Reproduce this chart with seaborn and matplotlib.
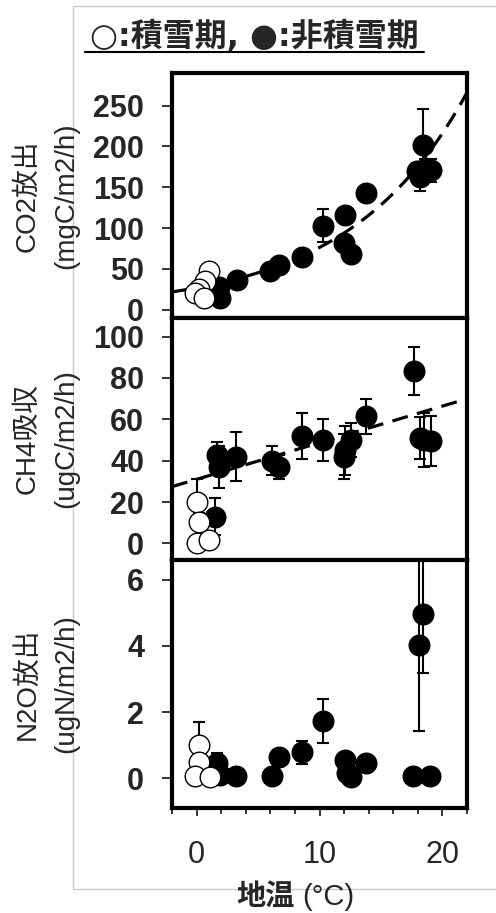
import numpy as np
import matplotlib
matplotlib.use("Agg")
import matplotlib.pyplot as plt
import seaborn as sns
from matplotlib.ticker import MultipleLocator
from matplotlib.patches import Rectangle
from matplotlib.lines import Line2D

# データ (地温 °C)
co2_snow_x = [1.0, 0.7, 0.2, -0.1, 0.6]
co2_snow_y = [48, 35, 25, 20, 15]
co2_snow_err = [3, 3, 3, 3, 3]
co2_x = [1.8, 1.9, 3.3, 6.0, 6.7, 8.6, 10.3, 12.1, 12.0, 12.6, 13.8, 18.4, 17.9, 18.6, 19.1, 18.2]
co2_y = [28, 14, 37, 47, 55, 65, 103, 116, 82, 68, 143, 202, 170, 172, 171, 163]
co2_err = [4, 3, 4, 5, 5, 6, 20, 8, 8, 6, 6, 44, 10, 13, 14, 18]
co2_fit = (27.0, 0.104)  # a*exp(b*T)

ch4_snow_x = [0.0, 0.2, 0.05, 1.0]
ch4_snow_y = [20, 10.5, 0.3, 1.6]
ch4_snow_err = [11, 4, 2, 2]
ch4_x = [1.7, 1.8, 3.2, 1.5, 6.1, 6.7, 8.6, 10.3, 12.1, 12.6, 12.0, 13.8, 17.7, 18.2, 18.5, 19.1]
ch4_y = [43, 37, 42, 13, 40, 37, 52, 50, 45, 50, 42, 61.5, 83.4, 51, 50, 49.5]
ch4_err = [6, 10, 12, 9, 7, 6, 11, 10, 12, 8, 11, 8.5, 11.5, 10, 13, 12]
ch4_fit = (31.0, 1.77)  # a + b*T

n2o_snow_x = [0.2, 0.2, -0.1, 1.1]
n2o_snow_y = [1.0, 0.5, 0.07, 0.05]
n2o_snow_err = [0.7, 0.15, 0.1, 0.1]
n2o_x = [1.7, 1.9, 3.2, 6.1, 6.7, 8.6, 10.3, 12.1, 12.2, 12.6, 13.8, 17.6, 19.0, 18.4, 18.1]
n2o_y = [0.45, 0.1, 0.07, 0.07, 0.63, 0.78, 1.73, 0.56, 0.15, 0.05, 0.46, 0.07, 0.07, 4.98, 4.03]
n2o_err = [0.3, 0.1, 0.05, 0.05, 0.1, 0.35, 0.66, 0.1, 0.1, 0.05, 0.1, 0.05, 0.05, 1.8, 2.6]

ylabels = ["CO2放出\n(mgC/m2/h)", "CH4吸収\n(ugC/m2/h)", "N2O放出\n(ugN/m2/h)"]
yticks = [[0, 50, 100, 150, 200, 250], [0, 20, 40, 60, 80, 100], [0, 2, 4, 6]]
ylims = [(-10, 290), (-8, 109), (-0.9, 6.6)]

sns.set_style("white")
plt.rcParams['font.family'] = ['Liberation Sans', 'Noto Sans CJK JP']

fig = plt.figure(figsize=(4.96, 9.13), dpi=100)

# 外枠
fig.patches.append(Rectangle((73/496, 1-889/913), 1.0, (889-6)/913, transform=fig.transFigure,
                             fill=False, edgecolor='#c8c8c8', lw=1))

L, W = 172/496, 295/496
boxes = [(73, 318), (318, 560), (560, 808)]

panels = [
    (co2_x, co2_y, co2_err, co2_snow_x, co2_snow_y, co2_snow_err),
    (ch4_x, ch4_y, ch4_err, ch4_snow_x, ch4_snow_y, ch4_snow_err),
    (n2o_x, n2o_y, n2o_err, n2o_snow_x, n2o_snow_y, n2o_snow_err),
]

for i, (top, bot) in enumerate(boxes):
    ax = fig.add_axes([L, 1-bot/913, W, (bot-top)/913])
    fx, fy, fe, sx, sy, se = panels[i]
    ax.errorbar(fx, fy, yerr=fe, fmt='none', ecolor='black', elinewidth=1.5, capsize=4.5, capthick=1.5, zorder=2)
    sns.scatterplot(x=fx, y=fy, ax=ax, color='black', edgecolor='black', s=220, linewidth=1, zorder=3)
    ax.errorbar(sx, sy, yerr=se, fmt='none', ecolor='black', elinewidth=1.5, capsize=4.5, capthick=1.5, zorder=4)
    sns.scatterplot(x=sx, y=sy, ax=ax, color='white', edgecolor='black', s=220, linewidth=1, zorder=5)

    t = np.linspace(-2, 22, 200)
    if i == 0:
        ax.plot(t, co2_fit[0]*np.exp(co2_fit[1]*t), color='black', lw=2.3, linestyle=(0, (5, 3)), zorder=2)
    elif i == 1:
        ax.plot(t, ch4_fit[0] + ch4_fit[1]*t, color='black', lw=2.3, linestyle=(0, (5, 3)), zorder=2)

    ax.set_xlim(-2, 22)
    ax.set_ylim(*ylims[i])
    ax.set_yticks(yticks[i])
    ax.set_xticks([0, 10, 20])
    ax.xaxis.set_minor_locator(MultipleLocator(2))
    for s in ax.spines.values():
        s.set_linewidth(3)
        s.set_color('black')
    ax.tick_params(axis='y', direction='out', length=7, width=1.3, pad=13, labelsize=22, left=True)
    ax.tick_params(axis='x', which='major', direction='out', length=6, width=1.3, pad=17, labelsize=22, bottom=True)
    ax.tick_params(axis='x', which='minor', direction='out', length=4, width=1.3, bottom=True)
    for lab in ax.get_yticklabels():
        lab.set_fontweight('bold')
    if i < 2:
        ax.set_xticklabels([])
    ax.set_xlabel('')
    ax.set_ylabel('')
    fig.text(47/496, 1-(top+bot)/2/913, ylabels[i], rotation=90, ha='center', va='center',
             fontsize=20, linespacing=1.65, multialignment='center')

fig.text(295/496, 1-897/913, "地温", fontsize=21, fontweight='bold', ha='right', va='center')
fig.text(302/496, 1-897/913, "(°C)", fontsize=21, ha='left', va='center')

fig.text(254/496, 1-37/913, "○:積雪期, ●:非積雪期", fontsize=23, fontweight='bold',
         ha='center', va='center', family=['DejaVu Sans', 'Noto Sans CJK JP'])
fig.lines.append(Line2D([85/496, 424/496], [1-52/913, 1-52/913], transform=fig.transFigure, color='black', lw=1.5))

fig.savefig("out.png", dpi=100)
